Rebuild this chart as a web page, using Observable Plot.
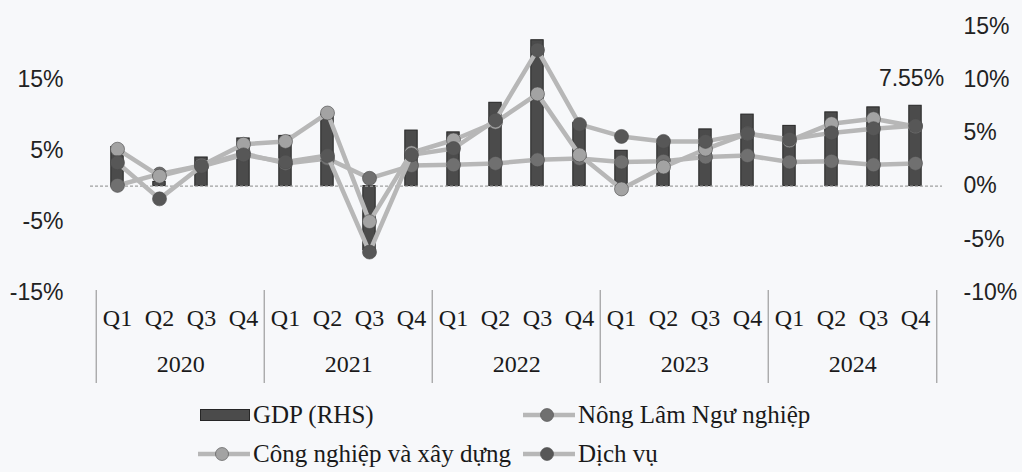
<!DOCTYPE html>
<html><head><meta charset="utf-8">
<script src="https://cdn.jsdelivr.net/npm/d3@7"></script>
<script src="https://cdn.jsdelivr.net/npm/@observablehq/plot@0.6"></script>
<style>
body{margin:0;background:#f7f8fa;}
#wrap{position:relative;width:1022px;height:472px;overflow:hidden;background:#f7f8fa;}
.leg{position:absolute;display:flex;align-items:center;font-family:"Liberation Serif",serif;font-size:25px;color:#1a1a1a;white-space:nowrap;height:30px;}
.leg svg{display:block;margin-right:3px;}
</style></head><body><div id="wrap"><div id="chart"></div></div>
<script>
const years = ["2020","2021","2022","2023","2024"];
const quarters = ["Q1","Q2","Q3","Q4"];
const gdp = [3.68,0.39,2.69,4.48, 4.72,6.73,-6.02,5.22, 5.05,7.83,13.71,5.92, 3.32,4.14,5.33,6.72, 5.66,6.93,7.40,7.55];
const nongLam = [0.1,1.7,2.9,4.6, 3.2,3.9,1.1,2.9, 3.0,3.2,3.7,3.9, 3.4,3.5,4.1,4.3, 3.4,3.5,3.0,3.2];
const congNghiep = [5.2,1.4,2.9,5.9, 6.3,10.3,-5.0,4.7, 6.5,9.0,13.0,4.4, -0.4,2.7,5.2,7.4, 6.4,8.8,9.5,8.4];
const dichVu = [3.3,-1.8,2.8,4.4, 3.4,4.3,-9.3,4.4, 5.3,9.3,19.2,8.7, 7.0,6.3,6.3,7.4, 6.6,7.5,8.1,8.5];
const leftTicks = [-15,-5,5,15];
const rightTicks = [-10,-5,0,5,10,15];
const gdpName = "GDP (RHS)";
const seriesNames = ["Nông Lâm Ngư nghiệp","Công nghiệp và xây dựng","Dịch vụ"];
const seriesValues = [nongLam, congNghiep, dichVu];
const markerColors = ["#707070","#a3a3a3","#575757"];
const lineColor = "#b7b7b7";
const barColor = "#4b4b4b";

// right axis scaled onto the left axis units
const k = 1.5;
const W = 1022, H = 390, mL = 90, mR = 80, mT = 26, mB = 98;
const band = (W - mL - mR) / 20;

const keys = [];
years.forEach(y => quarters.forEach(q => keys.push(y + " " + q)));
const rows = keys.map((key, i) => ({key, q: quarters[i % 4], year: years[Math.floor(i / 4)], gdp: gdp[i]}));
const long = [];
seriesValues.forEach((vals, s) => vals.forEach((v, i) => long.push({key: keys[i], series: seriesNames[s], value: v, s})));

const serif = "Liberation Serif";
const seriesMarks = [];
seriesNames.forEach((name, s) => {
  const d = long.filter(r => r.s === s);
  seriesMarks.push(Plot.line(d, {x: "key", y: "value", stroke: lineColor, strokeWidth: 4.5, curve: "linear"}));
  seriesMarks.push(Plot.dot(d, {x: "key", y: "value", r: 7, fill: markerColors[s], stroke: "#4a4a4a", strokeWidth: 0.6}));
});

const chart = Plot.plot({
  width: W, height: H,
  marginLeft: mL, marginRight: mR, marginTop: mT, marginBottom: mB,
  style: {fontFamily: "Liberation Sans", fontSize: "23px", color: "#222", background: "transparent", overflow: "visible"},
  x: {type: "band", domain: keys, padding: 0, axis: null},
  y: {domain: [-15, 22.5], axis: null},
  marks: [
    Plot.axisY(leftTicks, {anchor: "left", tickSize: 0, tickPadding: 27, tickFormat: d => d + "%", label: null, fontSize: 23}),
    Plot.axisY(rightTicks.map(v => v * k), {anchor: "right", tickSize: 0, tickPadding: 21, tickFormat: d => Math.round(d / k) + "%", label: null, fontSize: 23}),
    Plot.barY(rows, {x: "key", y: d => d.gdp * k, fill: barColor, stroke: "#262626", strokeWidth: 1, insetLeft: 14.8, insetRight: 14.8}),
    Plot.ruleY([0], {stroke: "#a0a0a0", strokeWidth: 1.2, strokeDasharray: "3,2"}),
    ...seriesMarks,
    Plot.text([rows[rows.length - 1]], {x: "key", y: d => d.gdp * k, text: d => d.gdp.toFixed(2) + "%", dy: -27, dx: -4, fontSize: 23, fill: "#222"}),
    Plot.ruleX(years.map(y => y + " Q1"), {dx: -band / 2, stroke: "#8a8a8a", strokeWidth: 1, insetTop: H - mT - mB - 2, insetBottom: -91}),
    Plot.ruleX([keys[keys.length - 1]], {dx: band / 2, stroke: "#8a8a8a", strokeWidth: 1, insetTop: H - mT - mB - 2, insetBottom: -91}),
    Plot.text(rows, {x: "key", text: "q", frameAnchor: "bottom", dy: 33, fontFamily: serif, fontSize: 24, fill: "#1a1a1a"}),
    Plot.text(years, {x: d => d + " Q2", dx: band / 2, text: d => d, frameAnchor: "bottom", dy: 79, fontFamily: serif, fontSize: 24, fill: "#1a1a1a"})
  ]
});
document.getElementById("chart").appendChild(chart);

// legend
const wrap = document.getElementById("wrap");
function addItem(left, top, swatch, label) {
  const div = document.createElement("div");
  div.className = "leg";
  div.style.left = left + "px";
  div.style.top = top + "px";
  div.innerHTML = swatch + "<span>" + label + "</span>";
  wrap.appendChild(div);
}
const barSwatch = `<svg width="50" height="14"><rect x="0.5" y="1.5" width="49" height="11" fill="${barColor}" stroke="#262626"/></svg>`;
const lineSwatch = c => `<svg width="52" height="16"><line x1="0" y1="8" x2="52" y2="8" stroke="${lineColor}" stroke-width="4.5"/><circle cx="24" cy="8" r="6.5" fill="${c}" stroke="#4a4a4a" stroke-width="0.6"/></svg>`;
addItem(200, 400, barSwatch, gdpName);
addItem(523, 400, lineSwatch(markerColors[0]), seriesNames[0]);
addItem(198, 439, lineSwatch(markerColors[1]), seriesNames[1]);
addItem(523, 439, lineSwatch(markerColors[2]), seriesNames[2]);
</script></body></html>
